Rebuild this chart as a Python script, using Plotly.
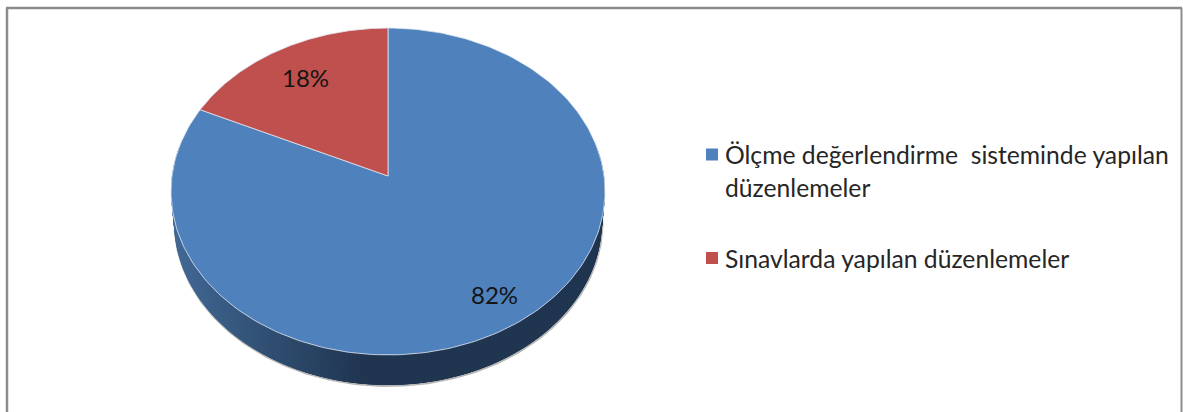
import numpy as np
import plotly.graph_objects as go

# Data
categories = ["Ölçme değerlendirme  sisteminde yapılan düzenlemeler", "Sınavlarda yapılan düzenlemeler"]
legend_lines = [["Ölçme değerlendirme  sisteminde yapılan", "düzenlemeler"], ["Sınavlarda yapılan düzenlemeler"]]
shares = [82, 18]
pct_labels = ["82%", "18%"]
colors = ["#4f81bd", "#c0504d"]

W, H = 1183, 412
# Projection of the pie disc on the page (perspective tilt)
CX, APEX_Y, KX, A, C, DEPTH, BASE_SCALE = 388.0, 176.0, 216.0, -145.3, 0.0948, 30.0, 0.986


def project(u, v):
    d = C * v + 1
    return CX + KX * u / d, (A * v + APEX_Y) / d


def rim(t0, t1, n=240):
    t = np.linspace(t0, t1, n)
    return project(np.sin(t), np.cos(t))


def lerp_hex(c0, c1, f):
    a = [int(c0[i:i + 2], 16) for i in (1, 3, 5)]
    b = [int(c1[i:i + 2], 16) for i in (1, 3, 5)]
    return "#" + "".join(f"{round(p + (q - p) * f):02x}" for p, q in zip(a, b))


fig = go.Figure()
total = sum(shares)
angles = np.cumsum([0] + shares) / total * 2 * np.pi

# Side wall: soft shadow edge, then gradient strips along the front half of the first slice
t_front = np.linspace(np.pi * 0.44, np.pi * 1.56, 200)
sx, sy = project(np.sin(t_front), np.cos(t_front))
bx = CX + (sx - CX) * BASE_SCALE
by = sy + DEPTH
fig.add_trace(go.Scatter(x=bx + 0.5, y=by + 1.0, mode="lines",
                         line=dict(color="#b5b5b5", width=2),
                         showlegend=False, hoverinfo="skip"))
for i in range(len(t_front) - 1):
    j = min(i + 4, len(t_front) - 1)
    xs = [sx[i], sx[j], bx[j], bx[i]]
    ys = [sy[i], sy[j], by[j], by[i]]
    f = float(np.clip((sx[i] - 176) / (365 - 176), 0, 1))
    col = lerp_hex("#416894", "#1f3550", f)
    fig.add_trace(go.Scatter(x=xs, y=ys, mode="lines", fill="toself", fillcolor=col,
                             line=dict(color=col, width=0),
                             showlegend=False, hoverinfo="skip"))

# Top face slices (first slice runs clockwise from twelve o'clock)
for i, cat in enumerate(categories):
    rx, ry = rim(angles[i], angles[i + 1])
    ax, ay = project(0, 0)
    fig.add_trace(go.Scatter(x=np.r_[ax, rx, ax], y=np.r_[ay, ry, ay], mode="lines",
                             fill="toself", fillcolor=colors[i],
                             line=dict(color="#dfe6ef", width=0.8),
                             name=cat, showlegend=False, hoverinfo="name"))

# Legend markers and text
legend_y = [154.5, 258]
fig.add_trace(go.Scatter(x=[712, 712], y=legend_y, mode="markers",
                         marker=dict(symbol="square", size=12, color=colors, line=dict(width=0)),
                         showlegend=False, hoverinfo="skip"))
ann = []
line_y = [[154, 187], [258]]
for lines, ys in zip(legend_lines, line_y):
    for txt, y in zip(lines, ys):
        ann.append(dict(x=723, y=y, text=txt, xanchor="left", yanchor="middle", showarrow=False,
                        font=dict(family="Lato", size=24.7, color="#262626")))
for txt, (x, y) in zip(pct_labels, [(494, 294), (305, 77)]):
    ann.append(dict(x=x, y=y, text=txt, xanchor="center", yanchor="middle", showarrow=False,
                    font=dict(family="Lato", size=24, color="#141414")))

shapes = [
    dict(type="line", x0=7, x1=7, y0=8, y1=H, line=dict(color="#8c8c8c", width=2.5)),
    dict(type="line", x0=6, x1=1182, y0=8, y1=8, line=dict(color="#8c8c8c", width=2.5)),
    dict(type="line", x0=1181.5, x1=1181.5, y0=8, y1=H, line=dict(color="#8c8c8c", width=2)),
]

fig.update_layout(
    width=W, height=H, margin=dict(l=0, r=0, t=0, b=0),
    paper_bgcolor="white", plot_bgcolor="white",
    xaxis=dict(range=[0, W], visible=False, fixedrange=True),
    yaxis=dict(range=[H, 0], visible=False, fixedrange=True),
    annotations=ann, shapes=shapes,
)
fig.write_html("out.html", config={"displayModeBar": False},
               post_script="document.body.style.margin='0';document.body.style.overflow='hidden';")
